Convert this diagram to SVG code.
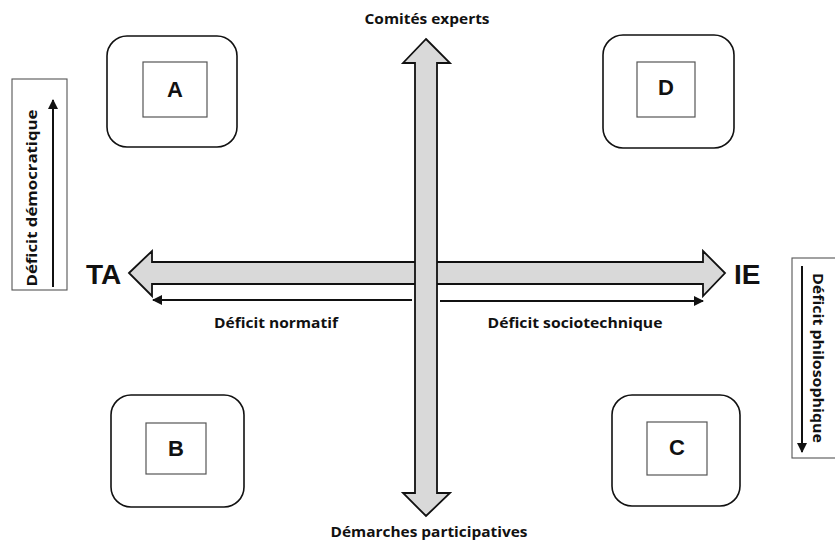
<svg xmlns="http://www.w3.org/2000/svg" width="835" height="544" viewBox="0 0 835 544">
<defs>
<style>
.outer{fill:#fff;stroke:#111;stroke-width:1.6}
.inner{fill:#fff;stroke:#555;stroke-width:1.2}
.lbl{font-family:"Liberation Sans",Arial,sans-serif;font-weight:bold;font-size:22px;fill:#111;text-anchor:middle}
.big{fill:#d9d9d9;stroke:#111;stroke-width:1.8;stroke-linejoin:miter}
.thin{stroke:#111;stroke-width:2;fill:none}
.t{font-family:"Open Sans","Liberation Sans",sans-serif;font-weight:bold;font-size:15px;fill:#111;text-anchor:middle}
.pole{font-family:"Liberation Sans",Arial,sans-serif;font-weight:bold;font-size:28px;fill:#111}
.side{fill:#fff;stroke:#555;stroke-width:1.1}
</style>
<marker id="ah" viewBox="0 0 10 10" refX="9" refY="5" markerWidth="5" markerHeight="5" orient="auto">
<path d="M0,0 L10,5 L0,10 z" fill="#111"/>
</marker>
</defs>

<g id="node-A">
<rect class="outer" x="107" y="36" width="130" height="111" rx="20"/>
<rect class="inner" x="143" y="62" width="64" height="55"/>
<text class="lbl" x="175" y="97">A</text>
</g>
<g id="node-D">
<rect class="outer" x="603" y="35" width="131" height="113" rx="20"/>
<rect class="inner" x="637" y="62" width="58" height="55"/>
<text class="lbl" x="666" y="95">D</text>
</g>
<g id="node-B">
<rect class="outer" x="111" y="395" width="133" height="112" rx="20"/>
<rect class="inner" x="146" y="423" width="60" height="51"/>
<text class="lbl" x="176" y="456">B</text>
</g>
<g id="node-C">
<rect class="outer" x="612" y="395" width="128" height="111" rx="20"/>
<rect class="inner" x="647" y="422" width="60" height="53"/>
<text class="lbl" x="677" y="455">C</text>
</g>

<g id="side-left">
<rect class="side" x="12" y="79" width="55" height="211"/>
<text class="t" transform="translate(37,198) rotate(-90)" x="0" y="0" textLength="177" lengthAdjust="spacingAndGlyphs">Déficit démocratique</text>
</g>
<g id="side-right">
<rect class="side" x="792" y="258" width="44" height="200"/>
<text class="t" transform="translate(813,358) rotate(90)" x="0" y="0" textLength="170" lengthAdjust="spacingAndGlyphs">Déficit philosophique</text>
</g>

<g id="connectors">
<polygon class="big" points="129,273 152,251 152,262 703,262 703,251 725,273 703,296 703,284 152,284 152,296"/>
<polygon class="big" points="426,39 450,63 437,63 437,493 450,493 426,516 403,493 415,493 415,63 403,63"/>
<line class="thin" x1="412" y1="300" x2="153" y2="300" marker-end="url(#ah)"/>
<line class="thin" x1="440" y1="301" x2="703" y2="301" marker-end="url(#ah)"/>
<line class="thin" x1="53" y1="287" x2="53" y2="100" marker-end="url(#ah)"/>
<line class="thin" x1="802" y1="266" x2="802" y2="452" marker-end="url(#ah)"/>
</g>

<g id="labels">
<text class="pole" x="86" y="284">TA</text>
<text class="pole" x="734" y="284">IE</text>
<text class="t" x="276" y="328" textLength="124" lengthAdjust="spacingAndGlyphs">Déficit normatif</text>
<text class="t" x="575" y="328" textLength="175" lengthAdjust="spacingAndGlyphs">Déficit sociotechnique</text>
<text class="t" x="427" y="24" textLength="125" lengthAdjust="spacingAndGlyphs">Comités experts</text>
<text class="t" x="429" y="537" textLength="197" lengthAdjust="spacingAndGlyphs">Démarches participatives</text>
</g>
</svg>
